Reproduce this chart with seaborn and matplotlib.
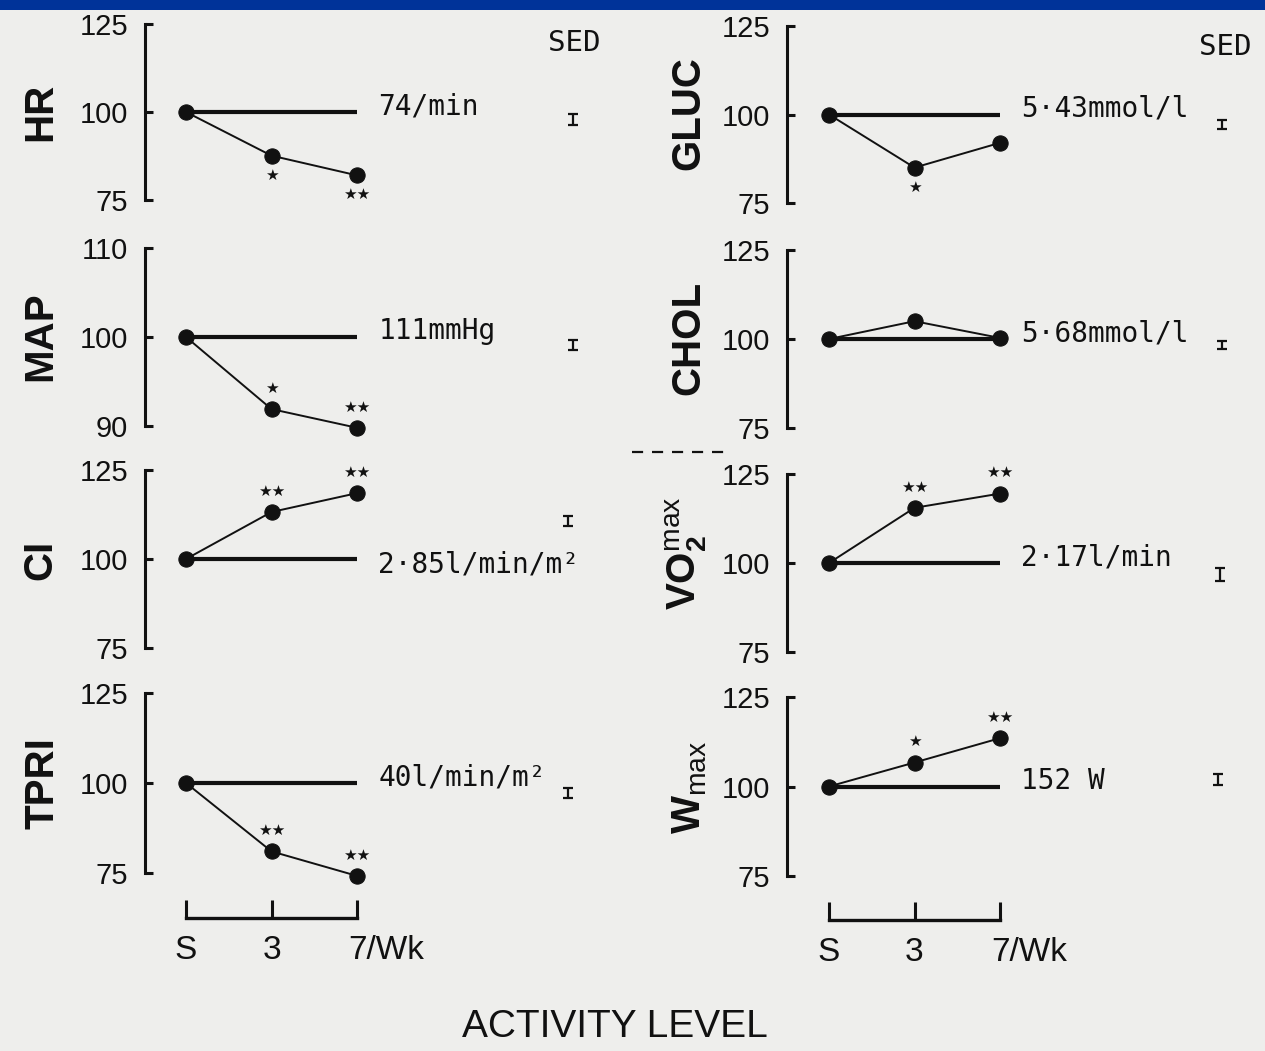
import matplotlib
matplotlib.use("Agg")
import matplotlib.pyplot as plt
from matplotlib.lines import Line2D
from matplotlib.patches import Rectangle
import matplotlib.transforms as mtransforms
import seaborn as sns
import pandas as pd

# --- data (percent of sedentary value) ---
levels = ["S", "3", "7/Wk"]
level_pos = [0, 1, 2]

panel_names = ["HR", "MAP", "CI", "TPRI", "GLUC", "CHOL", "VO2max", "Wmax"]
hr = [100, 87.6, 82.0]
map_ = [100, 91.9, 89.8]
ci = [100, 113.2, 118.5]
tpri = [100, 81.0, 74.2]
gluc = [100, 85.0, 92.0]
chol = [100, 105.0, 100.3]
vo2 = [100, 115.5, 119.5]
wmax = [100, 106.7, 113.5]
values = [hr, map_, ci, tpri, gluc, chol, vo2, wmax]

ylims = [(75, 125), (90, 110), (75, 125), (75, 125),
         (75, 125), (75, 125), (75, 125), (75, 125)]
baseline_text = ["74/min", "111mmHg", "2·85l/min/m²", "40l/min/m²",
                 "5·43mmol/l", "5·68mmol/l", "2·17l/min", "152 W"]
stars = [["", "★", "★★"], ["", "★", "★★"], ["", "★★", "★★"], ["", "★★", "★★"],
         ["", "★", ""], ["", "", ""], ["", "★★", "★★"], ["", "★", "★★"]]
star_side = ["below", "above", "above", "above", "below", "above", "above", "above"]

# SED bars (centre and half length, in panel units)
sed_y = [97.8, 99.1, 110.6, 97.2, 97.2, 98.3, 96.7, 102.0]
sed_err = [1.6, 0.6, 1.4, 1.3, 1.2, 1.1, 1.8, 1.6]

ylabels = ["HR", "MAP", "CI", "TPRI", "GLUC", "CHOL",
           r"VO$_{\mathbf{2}}^{\mathrm{max}}$", r"W$_{\mathrm{max}}$"]

# --- figure setup ---
W, H = 1265, 1051
paper = "#eeeeec"
ink = "#111111"

sns.set_theme(style="white")
plt.rcParams["font.family"] = ["Liberation Sans", "DejaVu Sans"]
plt.rcParams["mathtext.fontset"] = "custom"
plt.rcParams["mathtext.rm"] = "Liberation Sans"
plt.rcParams["mathtext.bf"] = "Liberation Sans:bold"
plt.rcParams["axes.facecolor"] = "none"

fig = plt.figure(figsize=(W / 100, H / 100), dpi=100, facecolor=paper)
fig.patches.append(Rectangle((0, 1 - 10 / H), 1, 10 / H, transform=fig.transFigure,
                             facecolor="#003399", edgecolor="none", zorder=5))


def px_axes(left, right, top, bottom):
    return fig.add_axes([left / W, 1 - bottom / H, (right - left) / W, (bottom - top) / H])


# pixel frames: (spine x, right edge, top, bottom, x of S, x step, ylabel x, ylabel y)
frames = [
    (145, 620, 24, 200, 186, 85.5, 40, 112),
    (145, 620, 248, 426, 186, 85.5, 40, 336),
    (145, 620, 470, 648, 186, 85.5, 40, 560),
    (145, 620, 693, 873, 186, 85.5, 42, 783),
    (787, 1262, 26, 203, 829, 85.5, 688, 113),
    (787, 1262, 250, 428, 829, 85.5, 688, 338),
    (787, 1262, 474, 652, 829, 85.5, 686, 553),
    (787, 1262, 697, 876, 829, 85.5, 690, 787),
]
sed_xpix = [573, 573, 568, 568, 1222, 1222, 1220, 1218]

for i, name in enumerate(panel_names):
    left, right, top, bottom, xs, step, lx, ly = frames[i]
    ax = px_axes(left, right, top, bottom)
    x0 = -(xs - left) / step
    ax.set_xlim(x0, x0 + (right - left) / step)
    lo, hi = ylims[i]
    ax.set_ylim(lo, hi)

    df = pd.DataFrame({"level": level_pos, "value": values[i]})
    ax.hlines(100, level_pos[0], level_pos[-1], color=ink, lw=3.0, zorder=2)
    sns.lineplot(data=df, x="level", y="value", ax=ax, color=ink, lw=1.4,
                 marker="o", markersize=11, markeredgecolor=ink,
                 clip_on=False, zorder=3)

    # significance stars
    dy = -14 if star_side[i] == "below" else 15
    for xp, yv, s in zip(level_pos, values[i], stars[i]):
        if s:
            ax.annotate(s, (xp, yv), xytext=(0, dy), textcoords="offset points",
                        ha="center", va="center", fontsize=11, color=ink,
                        family="DejaVu Sans", annotation_clip=False)

    # baseline absolute value
    off = -4 if name == "CI" else 4
    ax.annotate(baseline_text[i], (2.25, 100), xytext=(0, off), textcoords="offset points",
                ha="left", va="center", fontsize=20, color=ink,
                family="DejaVu Sans Mono", annotation_clip=False)

    # SED bar
    sed_x = (sed_xpix[i] - xs) / step
    ax.errorbar([sed_x], [sed_y[i]], yerr=[sed_err[i]], fmt="none", ecolor=ink,
                elinewidth=1.6, capsize=3.5, capthick=1.6)

    # bracket-like y axis
    for sp in ["top", "right", "bottom"]:
        ax.spines[sp].set_visible(False)
    ax.spines["left"].set_color(ink)
    ax.spines["left"].set_linewidth(2.2)
    ax.set_yticks([lo, 100, hi])
    ax.set_yticklabels([str(lo), "100", str(hi)])
    ax.tick_params(axis="y", left=True, direction="in", length=6, width=2.2, color=ink,
                   labelsize=21, labelcolor=ink, pad=12)
    ax.set_xticks([])
    ax.set_xlabel("")
    ax.set_ylabel("")

    fig.text(lx / W, 1 - ly / H, ylabels[i], rotation=90, ha="center", va="center",
             fontsize=29, fontweight="bold", color=ink)

# activity level axes (bracket with ticks)
for left, right, xs, ybase in [(145, 620, 186, 918), (787, 1262, 829, 920)]:
    bx = px_axes(left, right, ybase - 20, ybase)
    x0 = -(xs - left) / 85.5
    bx.set_xlim(x0, x0 + (right - left) / 85.5)
    bx.set_ylim(0, 1)
    for sp in ["top", "right", "left"]:
        bx.spines[sp].set_visible(False)
    bx.spines["bottom"].set_bounds(level_pos[0], level_pos[-1])
    bx.spines["bottom"].set_linewidth(2.4)
    bx.spines["bottom"].set_color(ink)
    bx.set_yticks([])
    bx.set_xticks(level_pos)
    bx.set_xticklabels(levels)
    bx.tick_params(axis="x", bottom=True, direction="in", length=13, width=2.2, color=ink,
                   labelsize=24, labelcolor=ink, pad=12)
    last = bx.get_xticklabels()[-1]
    last.set_horizontalalignment("left")
    last.set_transform(last.get_transform() +
                       mtransforms.ScaledTranslation(-9 / 100, 0, fig.dpi_scale_trans))

# SED headers
fig.text(574 / W, 1 - 43 / H, "SED", ha="center", va="center", fontsize=21,
         family="DejaVu Sans Mono", color=ink)
fig.text(1225 / W, 1 - 47 / H, "SED", ha="center", va="center", fontsize=21,
         family="DejaVu Sans Mono", color=ink)

# dashed separator between the blood and fitness panels
fig.add_artist(Line2D([632 / W, 727 / W], [1 - 452 / H, 1 - 452 / H],
                      transform=fig.transFigure, color=ink, lw=1.6, ls=(0, (5, 4))))

fig.text(615 / W, 1 - 1027 / H, "ACTIVITY LEVEL", ha="center", va="center",
         fontsize=28, color=ink)

fig.savefig("out.png", dpi=100, facecolor=paper)
